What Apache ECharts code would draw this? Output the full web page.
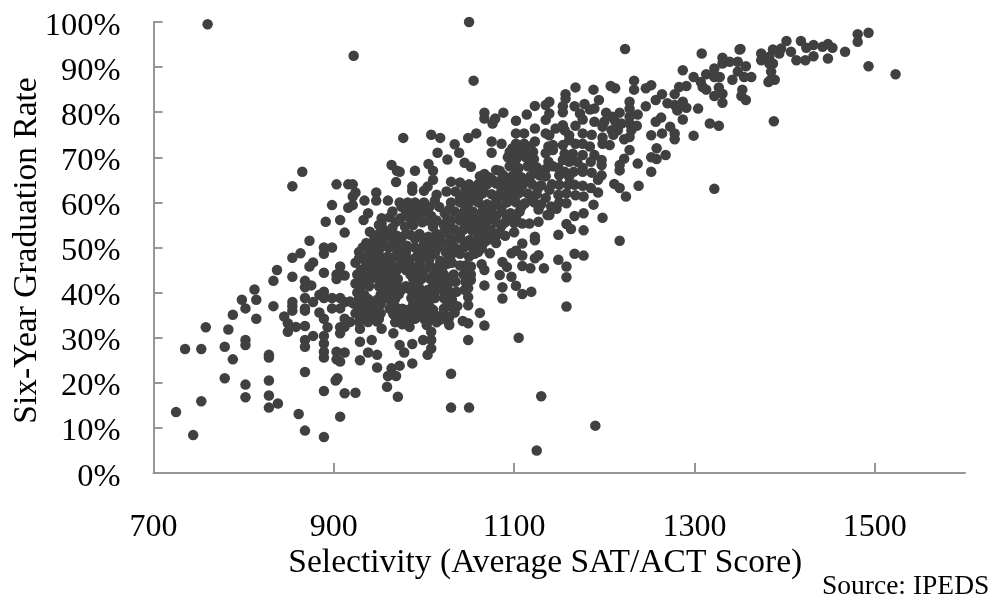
<!DOCTYPE html>
<html><head><meta charset="utf-8">
<style>html,body{margin:0;padding:0;background:#fff}#c{width:992px;height:596px}</style>
<script src="https://cdn.jsdelivr.net/npm/echarts@6/dist/echarts.min.js"></script></head>
<body><div id="c"></div>
<script>
const xTickLabels=[700,900,1100,1300,1500];
const yTickLabels=[0,10,20,30,40,50,60,70,80,90,100];
const outliers=[[760,99.5],[922,92.5],[1050,100],[1055,87],[1125,5],[1190,10.5],[1130,17],[1030,22],[1030,14.5],[1050,14.5],[1105,30],[1223,94],[1351,94],[977,74.3],[1008,75],[1018,74.3],[964,68.3],[970,67],[1015,71],[1026,69.5],[1005,68.5]];
const lowerLeft=[[865,66.8],[854,63.6],[903,64],[916,64],[898,59.4],[916,58.8],[891,55.7],[907,56.1],[912,53.3],[873,51.5],[889,50],[898,50],[889,48.6],[863,48.7],[854,47.7],[877,46.7],[873,45.8],[837,45],[889,44.4],[907,45.8],[903,44],[907,44],[912,43.8],[854,43.5],[833,42.6],[868,42.6],[868,41.2],[875,41.6],[903,43],[812,40.7],[798,38.4],[814,38.4],[868,38.8],[889,40.2],[884,39.5],[889,38.8],[898,38.8],[907,38.8],[877,37.9],[854,37.9],[854,37],[854,36],[833,37],[802,36.5],[868,36.5],[868,36],[898,36.5],[907,36.5],[912,37.9],[788,35.1],[814,34.2],[845,34.7],[884,35.6],[889,34.2],[912,34.2],
[758,32.3],[783,31.8],[849,33.2],[849,31.3],[858,32.4],[868,32.6],[877,30.4],[893,32.3],[907,32.3],[907,31],[912,32.4],[889,30.4],[889,28.7],[868,29.5],[868,28],[802,29.5],[802,28.4],[779,28],[753,27.5],[735,27.5],[788,25.2],[828,26.2],[828,25.6],[889,26.9],[889,25.6],[903,26.9],[912,26.7],[903,25.2],[907,24.7],[868,22.4],[779,21],[828,20.5],[802,19.6],[904,21],[902,20.5],[889,18.2],[912,17.7],[828,17.2],[802,16.8],[838,15.4],[828,14.5],[753,15.9],[725,13.5],[861,13.1],[907,12.5],[744,8.4],[868,9.4],[889,8]];
const midEdge=[[973,66.8],[990,67],[1010,67],[969,64.5],[987,63.5],[987,62.6],[921,64],[1010,65],[1004,63.5],[1000,62.6],[1014,61.7],[1025,62.4],[947,62.2],[947,60.4],[960,60.4],[934,60.4],[924,62.2],[921,61.3],[921,59.4],[938,57.6],[933,56.1],[953,56.5],[953,55.4],[962,56.7],
[929,29.1],[942,29.5],[953,32],[918,33.5],[929,32],[938,26.7],[948,26.2],[929,25],[948,23.4],[964,23.2],[973,23.8],[960,21.5],[969,21.5],[959,19.1],[971,16.9],[924,17.8],[987,28.6],[987,24.3],[1004,26.2],[978,26.7],[973,28.4],[966,31],[1008,27.6],[1008,29.5],[999,29.5],[1003,32.8],[1008,31.3],[984,32.4],[1027,33.5],[918,38]];
const denseWest=[[973,60],[982,60],[990,60],[1000,60],[1017,59],
[965,58],[980,58],[990,57.6],[1000,58],[1008,57],[1023,57.6],
[950,55],[969,55.7],[979,54.6],[988,55],[998,55.6],[1010,54.6],[1022,55],
[940,53.5],[950,53],[960,53.4],[970,52.6],[985,52.8],[995,53],[1005,52.4],[1014,53],[1024,53.4],
[936,51],[946,51],[956,50.4],[966,51],[976,50.6],[990,50],[1000,50.8],[1010,51],[1020,51.2],
[928,49],[940,48.8],[950,48.4],[960,48],[970,48.6],[980,49],[992,48],[1002,48.6],[1012,48.6],[1024,49],
[924,46.6],[936,46.4],[946,46],[955,46.6],[965,46],[975,46.6],[985,46],[995,46.4],[1006,46],[1016,45.8],[1026,46.4],
[926,44],[936,44],[946,43.6],[956,44],[966,44],[985,44],[994,44],[1012,43.6],[1022,44],
[924,42],[934,42],[950,41.4],[960,42],[970,41.6],[980,41.4],[990,42],[1010,41.6],[1020,42],[1028,42.4],
[926,40],[934,39.4],[952,39.6],[962,40],[972,39.6],[990,40],[1000,39.8],[1008,39.6],[1024,40],
[922,37.6],[932,37.6],[942,37],[952,37.4],[964,37.6],[970,36.6],[988,37.4],[998,37.6],[1006,37],[1026,37.6],
[924,35.4],[934,35.4],[944,35],[952,35.4],[966,35.2],[976,35],[986,35.4],[994,35.2],[1004,35.2],[1012,35],[1020,35],
[928,33.5],[938,33.5],[948,33.6],[968,33.4],[976,33],[984,33.6],[1004,33.6],[1014,33.4]];
const denseWestFill=[[975,59],[986,58.8],[995,59],[1006,59],[1012,60.4],
[955,54],[965,54.4],[974,56.5],[984,56.6],[994,56.6],[1004,56],[1014,56],[1026,56.2],
[945,52.2],[955,52],[965,52],[975,52.2],[980,53],[990,52],[1000,52],[1010,52],[1020,53],
[932,50],[941,50],[951,49.8],[961,50],[971,50],[981,50.4],[995,49.4],[1005,49.6],[1015,50],[1026,50.6],
[928,47.6],[934,47.6],[944,47.4],[954,47.4],[964,47.4],[974,47.6],[984,47.4],[996,47.2],[1006,47.4],[1018,47],[1028,47.6],
[930,45],[940,45],[950,45],[960,45],[970,45],[980,45],[990,45],[1000,45],[1010,45],[1020,45],
[930,43],[941,43],[951,42.6],[961,43],[971,43],[988,43],[997,43],[1006,43.2],[1016,43],[1026,43],
[929,41],[939,41.4],[955,40.6],[965,41],[975,40.6],[985,40.6],[995,41],[1004,40.6],[1015,40.6],[1026,41],
[928,38.8],[938,38.6],[948,38.4],[958,38.8],[968,38.6],[986,38.8],[995,38.8],[1004,38.4],[1012,38.8],[1022,38.8],
[927,36.4],[937,36.4],[947,36.2],[962,36.4],[976,36.4],[983,36.2],[992,36.4],[1002,36.2],[1010,36.2],[1022,36.4],
[930,34.4],[940,34.4],[950,34.2],[972,34.2],[981,34.4],[990,34.2],[1000,34.2],[1010,34.2],[1018,34],
[1028,58.4],[1029,54.4],[1031,50.6],[1031,46.6],[1033,44],[1035,42.4],[1031,38.4],[1037,37],[1034,35.6]];
const denseEast=[[1098,72],[1108,71.8],[1118,72.4],[1138,72.4],
[1093,70],[1103,69.8],[1113,70],[1122,69.6],[1138,69],
[1095,68],[1105,67.6],[1115,68],[1125,67.8],[1135,67.4],
[1062,65.8],[1072,65.6],[1088,66],[1098,65.8],[1108,65.6],[1118,65.8],[1128,66],
[1030,64.6],[1040,64.4],[1050,64],[1060,64],[1070,64],[1080,64.2],[1090,64],[1100,63.6],[1110,64],[1120,64],[1130,63.8],[1142,64],
[1035,62.4],[1045,62],[1055,62],[1065,62],[1075,61.8],[1085,62],[1095,62],[1105,62],[1115,62],[1125,61.8],[1135,61],
[1030,60],[1040,60],[1050,60],[1060,60],[1070,59.6],[1080,60],[1092,60],[1102,60],[1112,59.8],[1122,60],[1130,59.6],
[1034,58],[1044,57.8],[1054,58],[1064,57.8],[1074,58],[1086,58],[1096,57.6],[1106,58],
[1030,56],[1040,56],[1050,55.8],[1060,56],[1070,56],[1080,55.6],[1090,55.6],[1100,55.4],
[1034,54],[1044,54],[1054,53.6],[1064,54],[1074,54],[1084,53.4],
[1030,52],[1040,52],[1050,51.6],[1060,52],[1070,51.6],[1078,52],
[1034,50],[1044,50],[1054,50],[1064,49.8],[1030,48.4],[1040,48.6],[1050,48],[1056,48.6],[1046,46],[1052,45.8],[1040,46],[1044,44],[1052,44],[1046,42.4],[1052,42.8],[1049,41],[1028,43]];
const denseEastFill=[[1103,71],[1112,71],[1100,69],[1119,69],[1102,66.8],[1122,67],[1132,67],[1084,67],
[1066,65],[1076,65],[1086,65],[1096,65],[1106,65],[1116,65],
[1046,63.2],[1056,63],[1066,63],[1086,63],[1096,63],[1106,63],[1126,63],
[1040,61],[1050,61],[1060,61],[1080,61],[1090,61],[1100,61],[1120,61],
[1046,59],[1066,58.8],[1076,59],[1086,59],[1108,59],[1127,58.4],
[1040,57],[1050,57],[1060,57],[1070,57],[1080,57],[1092,56.6],[1102,56.6],
[1046,55],[1056,55],[1066,55],[1086,54.8],
[1040,53],[1060,53],[1070,53],[1080,52.6],
[1046,51],[1056,51],[1066,51],[1038,49.4],[1060,49],
[1156,76],[1146,76.4],[1168,77],[1186,75],[1184,72.4],[1168,73],[1150,66],[1143,68],[1166,66.8],[1170,69],[1186,66.6],[1147,58.6],[1150,60],[1168,61.6],[1210,75],[1222,74],[1212,78],[1236,77]];
const upperMid=[[1067,79.9],[1067,78.6],[1079,78.6],[1076,77.5],[1088,79.9],[1102,78.1],[1114,79.5],[1123,81.4],[1135,81.6],[1135,78.3],[1058,75.3],[1049,74.3],[1034,72.9],[1039,71],[1075,73.5],[1075,71],[1086,73],[1102,75.3],[1111,75.3],[1123,76.4],[1135,75.3],[1045,68.8],[1052,67.9],[1080,67.2],[1067,66.3],[1102,73],[1111,73],[1123,73.5],[1095,71.2],[1121,71.2],[1135,70.9],[1135,65.8],
[1123,52.4],[1123,51.6],[1109,50.9],[1073,48.7],[1097,48.7],[1102,49.3],[1109,48.2],[1127,48.3],[1123,47.6],[1109,45.9],[1118,45.4],[1133,45.4],[1087,46.8],[1092,45.7],[1064,46.3],[1067,45],[1084,43.9],[1097,43.5],[1102,41.5],[1067,41.6],[1087,41.2],[1119,40.2],[1109,39.7],[1087,38.7],[1062,35.5],[1043,33.7],[1049,33.2],[1067,32.7],[1049,29.5],[1028,36.9],[1028,34.6],[1028,32.8],[1049,37.2],[1049,39],[1036,40.2],[1045,40.6],[1028,40.2],[1109,55.3],[1117,55.3],[1127,55.7],[1137,57.2],
[1080,51],[1090,52.6],[1100,53.4]];
const upperRight=[[1168,85.5],[1188,85],[1207,85.8],[1212,85.3],[1233,85],[1246,85.3],[1252,86],[1233,87],[1157,84],[1157,83],[1194,82.7],[1178,81.8],[1167,81.3],[1154,81.3],[1139,82.3],[1184,80.6],[1189,80.8],[1228,82.3],[1228,80.8],[1264,84],[1257,82.7],[1246,81.3],[1278,84],[1270,82],[1278,81.6],[1281,80.4],[1154,80],[1173,79.7],[1139,79.7],[1176,78.4],[1154,77.1],[1189,77.9],[1202,79.9],[1217,79.9],[1237,79.5],[1228,79],[1209,79],[1200,77.9],[1219,77.5],[1228,77.5],[1263,78.8],[1257,77.9],[1273,76.8],[1278,75.3],[1278,74],[1264,75.3],[1252,74.9],[1198,76.8],[1198,74.4],[1208,76],[1215,76],[1230,76],[1228,74.5],[1176,75.3],[1161,74.9],[1161,73.8],[1139,74.9],[1206,72.7],[1198,73],[1176,73],[1154,72.7],[1143,72.7],[1143,71.6],[1228,71.6],[1258,72],[1252,70],[1258,69.6],[1268,70.5],[1222,69.7],[1237,68.6],[1217,68.3],[1217,67.1],[1252,66.8],[1189,70.5],[1176,70.5],[1165,70.8],[1156,70.8],[1154,69.4],[1185,69],[1197,69.4],[1197,68.3],[1176,67.7],[1176,66.8],[1161,69],[1149,67.7],[1156,66.8],[1197,66],[1161,65.7],
[1193,65],[1211,64.1],[1217,63.2],[1238,63.7],[1224,61.3],[1150,63.9],[1160,63.9],[1167,63.9],[1176,63.7],[1185,63.2],[1193,62.2],[1149,61.7],[1158,62],[1158,59.8],[1177,61.3],[1188,59.5],[1139,62.8],[1141,59.1],[1139,57.2],[1177,57.6],[1167,57],[1198,56.6],[1158,55.2],[1163,54.1],[1177,53.8],[1149,52.8],[1217,51.5],[1167,48.6],[1177,48.2],[1149,47.3],[1158,45.8],[1158,43.4],[1158,36.9],
[1493,97.6],[1481,97.3],[1481,95.6],[1418,95.8],[1402,95.8],[1432,94.9],[1424,94.3],[1448,95.1],[1442,94.5],[1453,94.3],[1467,93.4],[1387,93.9],[1396,94.1],[1407,93.4],[1374,93],[1350,93.9],[1308,93],[1331,92.1],[1339,91.2],[1348,91.2],[1357,90.2],[1383,92.3],[1394,93],[1432,92.4],[1423,91.5],[1413,91.5],[1448,91.9],[1374,91.5],[1331,90.8],[1322,89.7],[1287,89.3],[1299,87.8],[1313,88.4],[1348,89],[1383,90.8],[1387,90.8],[1385,89],[1384,87.1],[1389,87.2],[1382,86.7],[1493,90.2],[1523,88.4],[1322,87.8],[1328,87.8],[1355,87.8],[1363,87.8],[1342,87.2],[1307,86.7],[1291,85.8],[1283,85.6],[1309,85.6],[1313,85],[1327,85.5],[1331,84.1],[1322,83.6],[1331,82.1],[1353,85],[1352,83.6],[1357,82.7],[1287,82.3],[1291,81],[1283,81.5],[1304,80.8],[1287,78.4],[1317,77.5],[1327,77],[1388,78],[1299,74.8],[1322,63]];
const points=[...outliers,...lowerLeft,...midEdge,...denseWest,...denseWestFill,...denseEast,...denseEastFill,...upperMid,...upperRight];
const serif='"Liberation Serif","Times New Roman",serif';
const axisGray='#969696';
const chart=echarts.init(document.getElementById('c'),null,{renderer:'canvas'});
chart.setOption({
  animation:false,
  backgroundColor:'#fff',
  grid:{left:153.5,right:27,top:22,bottom:123,containLabel:false,outerBoundsMode:'none'},
  xAxis:{type:'value',min:700,max:1600,interval:200,
    name:'Selectivity (Average SAT/ACT Score)',nameLocation:'middle',nameGap:73,nameMoveOverlap:false,
    nameTextStyle:{fontFamily:serif,fontSize:33.5,color:'#000',padding:[0,28,0,0]},
    splitLine:{show:false},
    axisLine:{show:true,lineStyle:{color:axisGray,width:2}},
    axisTick:{show:true,inside:true,length:10,lineStyle:{color:axisGray,width:2},customValues:xTickLabels},
    axisLabel:{margin:39,fontFamily:serif,fontSize:32,color:'#000',customValues:xTickLabels,formatter:v=>String(v)}},
  yAxis:{type:'value',min:0,max:100,interval:10,
    name:'Six-Year Graduation Rate',nameLocation:'middle',nameGap:109,nameMoveOverlap:false,
    nameTextStyle:{fontFamily:serif,fontSize:33.5,color:'#000',padding:[0,6,0,0]},
    splitLine:{show:false},
    axisLine:{show:true,lineStyle:{color:axisGray,width:2}},
    axisTick:{show:true,inside:true,length:9,lineStyle:{color:axisGray,width:2}},
    axisLabel:{margin:33,color:'#000',formatter:v=>'{v|'+v+'%}',
      rich:{v:{fontFamily:serif,fontSize:32.5,color:'#000',padding:[8,0,0,0]}}}},
  series:[{type:'scatter',data:points,symbolSize:10.5,itemStyle:{color:'#404040',opacity:1},clip:false}],
  graphic:[{type:'text',left:822,top:573,style:{text:'Source: IPEDS',font:'27.5px '+serif,fill:'#000'}}]
});
</script></body></html>
